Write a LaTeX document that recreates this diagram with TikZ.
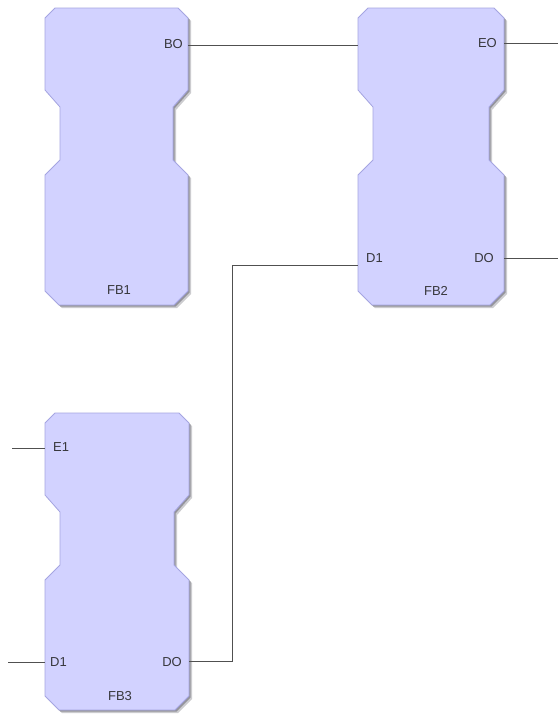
\documentclass[tikz,border=0pt]{standalone}
\usepackage{fontspec}
\setmainfont{Liberation Sans}
\definecolor{fbfill}{RGB}{210,210,255}
\definecolor{fbedge}{RGB}{165,165,225}
\definecolor{fbshade}{RGB}{110,110,120}
\definecolor{wire}{RGB}{80,80,80}
\definecolor{txt}{RGB}{55,55,60}
\newcommand\fbdraw[4]{%
 \begin{scope}[shift={(#2,#3)}]
  \fill[fbshade,opacity=0.35,shift={(3,3)}] (0,10) -- (10,0) -- (#4-10,0) -- (#4,10) -- (#4,82) -- (#4-15,99) -- (#4-15,152) -- (#4,167) -- (#4,283) -- (#4-14,297) -- (14,297) -- (0,283) -- (0,167) -- (15,152) -- (15,99) -- (0,82) -- cycle;
  \fill[fbshade,opacity=0.6,shift={(1.5,1.5)}] (0,10) -- (10,0) -- (#4-10,0) -- (#4,10) -- (#4,82) -- (#4-15,99) -- (#4-15,152) -- (#4,167) -- (#4,283) -- (#4-14,297) -- (14,297) -- (0,283) -- (0,167) -- (15,152) -- (15,99) -- (0,82) -- cycle;
  \filldraw[fill=fbfill,draw=fbedge,line width=0.8pt] (0,10) -- (10,0) -- (#4-10,0) -- (#4,10) -- (#4,82) -- (#4-15,99) -- (#4-15,152) -- (#4,167) -- (#4,283) -- (#4-14,297) -- (14,297) -- (0,283) -- (0,167) -- (15,152) -- (15,99) -- (0,82) -- cycle;
  \coordinate (#1) at (0,0);
 \end{scope}}
\tikzset{
 lbl/.style={inner sep=0pt,text=txt,font=\fontsize{13}{13}\selectfont},
 wirestyle/.style={draw=wire,line width=1pt}
}
\begin{document}
\begin{tikzpicture}[x=1pt,y=-1pt]
\useasboundingbox[fill=white] (0,0) rectangle (558,715);
\fbdraw{fb1}{45}{8}{143}
\fbdraw{fb2}{358}{8}{146}
\fbdraw{fb3}{45}{413}{144}
% port coordinates
\coordinate (fb1-bo) at (188,45);
\coordinate (fb2-bi) at (358,45);
\coordinate (fb2-eo) at (504,43);
\coordinate (fb2-do) at (504,258);
\coordinate (fb2-d1) at (358,265);
\coordinate (fb3-e1) at (45,448);
\coordinate (fb3-d1) at (45,662);
\coordinate (fb3-do) at (189,661);
\coordinate (eo-end) at (558,43);
\coordinate (do-end) at (558,258);
\coordinate (e1-end) at (12,448);
\coordinate (d1-end) at (8,662);
% labels
\node[lbl,anchor=east] (tbo) at (183,44) {BO};
\node[lbl] (tfb1) at (119,290) {FB1};
\node[lbl,anchor=east] (teo) at (497,43) {EO};
\node[lbl,anchor=west] (td1b) at (366,258) {D1};
\node[lbl,anchor=east] (tdob) at (494,258) {DO};
\node[lbl] (tfb2) at (436,291) {FB2};
\node[lbl,anchor=west] (te1) at (53,447) {E1};
\node[lbl,anchor=west] (td1c) at (50,662) {D1};
\node[lbl,anchor=east] (tdoc) at (182,662) {DO};
\node[lbl] (tfb3) at (120,696) {FB3};
% wires
\draw[wirestyle] (fb1-bo) -- (fb2-bi);
\draw[wirestyle] (fb2-eo) -- (eo-end);
\draw[wirestyle] (fb2-do) -- (do-end);
\draw[wirestyle] (fb3-do) -- (232,661) -- (232,265) -- (fb2-d1);
\draw[wirestyle] (e1-end) -- (fb3-e1);
\draw[wirestyle] (d1-end) -- (fb3-d1);
\end{tikzpicture}
\end{document}
